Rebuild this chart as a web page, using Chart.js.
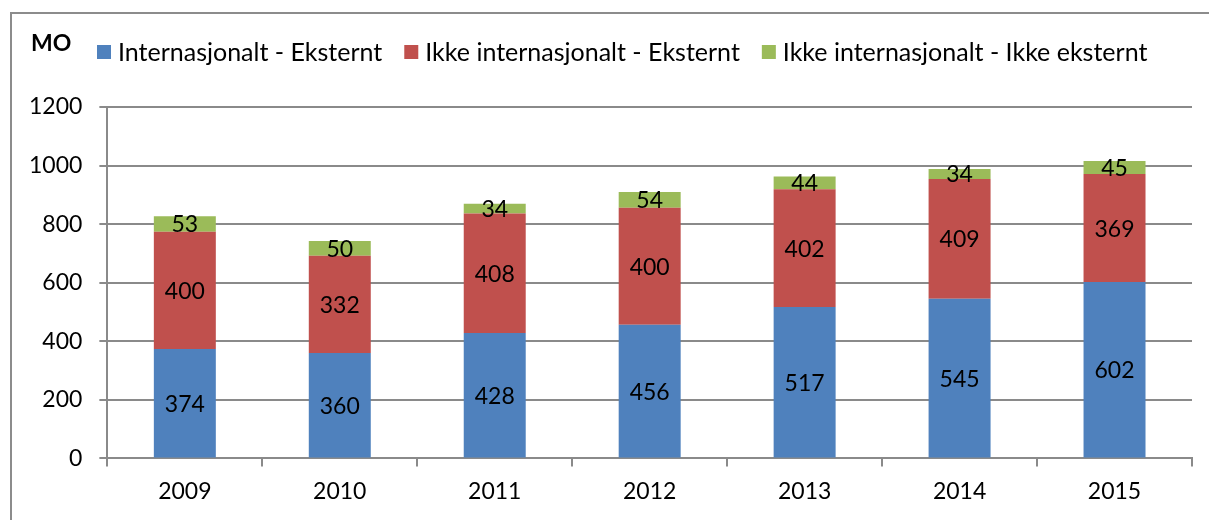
<!DOCTYPE html>
<html>
<head>
<meta charset="utf-8">
<script src="https://cdn.jsdelivr.net/npm/chart.js@4/dist/chart.umd.min.js"></script>
<style>
  body { margin: 0; background: #fff; overflow: hidden; }
  #wrap { width: 1209px; height: 520px; position: relative; }
</style>
</head>
<body>
<div id="wrap"><canvas id="chart"></canvas></div>
<script>
// years on the x axis
const years = ["2009", "2010", "2011", "2012", "2013", "2014", "2015"];

// stacked series, bottom to top
const internasjonaltEksternt = [374, 360, 428, 456, 517, 545, 602];
const ikkeInternasjonaltEksternt = [400, 332, 408, 400, 402, 409, 369];
const ikkeInternasjonaltIkkeEksternt = [53, 50, 34, 54, 44, 34, 45];

const seriesNames = [
  "Internasjonalt - Eksternt",
  "Ikke internasjonalt - Eksternt",
  "Ikke internasjonalt - Ikke eksternt"
];
const seriesColors = ["#4F81BD", "#C0504D", "#9BBB59"];

const fontFamily = "Lato, 'Open Sans', sans-serif";
const gridGray = "#8a8a8a";

// frame, "MO" unit label and the legend row (Excel style, tight spacing)
const framePlugin = {
  id: "frame",
  beforeDraw(chart) {
    const ctx = chart.ctx;
    ctx.save();
    ctx.fillStyle = "#fff";
    ctx.fillRect(0, 0, chart.width, chart.height);
    ctx.strokeStyle = "#8c8c8c";
    ctx.lineWidth = 2;
    ctx.strokeRect(11, 13, chart.width + 20, chart.height + 20);
    ctx.restore();
  },
  afterDraw(chart) {
    const ctx = chart.ctx;
    ctx.save();
    ctx.font = "bold 23px " + fontFamily;
    ctx.fillStyle = "#000";
    ctx.textBaseline = "middle";
    ctx.fillText("MO", 31, 44);

    ctx.font = "25px " + fontFamily;
    let x = 97;
    const y = 52;
    chart.data.datasets.forEach((ds) => {
      ctx.fillStyle = ds.backgroundColor;
      ctx.fillRect(x, y - 7, 14, 14);
      x += 21;
      ctx.fillStyle = "#000";
      ctx.fillText(ds.label, x, y + 1);
      x += ctx.measureText(ds.label).width + 22;
    });
    ctx.restore();
  }
};

// value labels in the middle of every segment
const valueLabels = {
  id: "valueLabels",
  afterDatasetsDraw(chart) {
    const ctx = chart.ctx;
    ctx.save();
    ctx.font = "23px " + fontFamily;
    ctx.fillStyle = "#000";
    ctx.textAlign = "center";
    ctx.textBaseline = "middle";
    chart.data.datasets.forEach((ds, i) => {
      chart.getDatasetMeta(i).data.forEach((bar, j) => {
        const mid = (bar.y + bar.base) / 2;
        ctx.fillText(ds.data[j], bar.x, mid + 1);
      });
    });
    ctx.restore();
  }
};

const data = {
  labels: years,
  datasets: seriesNames.map((name, i) => ({
    label: name,
    data: [internasjonaltEksternt, ikkeInternasjonaltEksternt, ikkeInternasjonaltIkkeEksternt][i],
    backgroundColor: seriesColors[i]
  }))
};

const config = {
  type: "bar",
  data: data,
  options: {
    responsive: true,
    maintainAspectRatio: false,
    animation: false,
    datasets: {
      bar: { categoryPercentage: 1, barPercentage: 0.4 }
    },
    layout: {
      padding: { left: 12, right: 17, top: 107, bottom: 4 }
    },
    plugins: {
      legend: { display: false },
      tooltip: { enabled: false }
    },
    scales: {
      x: {
        stacked: true,
        grid: {
          drawOnChartArea: false,
          drawTicks: true,
          tickLength: 8,
          color: gridGray,
          lineWidth: 2
        },
        border: { display: true, color: gridGray, width: 2 },
        ticks: {
          color: "#000",
          font: { family: fontFamily, size: 23 },
          padding: 11
        }
      },
      y: {
        stacked: true,
        min: 0,
        max: 1200,
        grid: {
          color: gridGray,
          lineWidth: 2,
          tickLength: 8
        },
        border: { display: true, color: gridGray, width: 2 },
        ticks: {
          stepSize: 200,
          color: "#000",
          font: { family: fontFamily, size: 23 },
          padding: 17,
          callback: (v) => String(v)
        }
      }
    }
  },
  plugins: [framePlugin, valueLabels]
};

const chart = new Chart(document.getElementById("chart"), config);
</script>
</body>
</html>
